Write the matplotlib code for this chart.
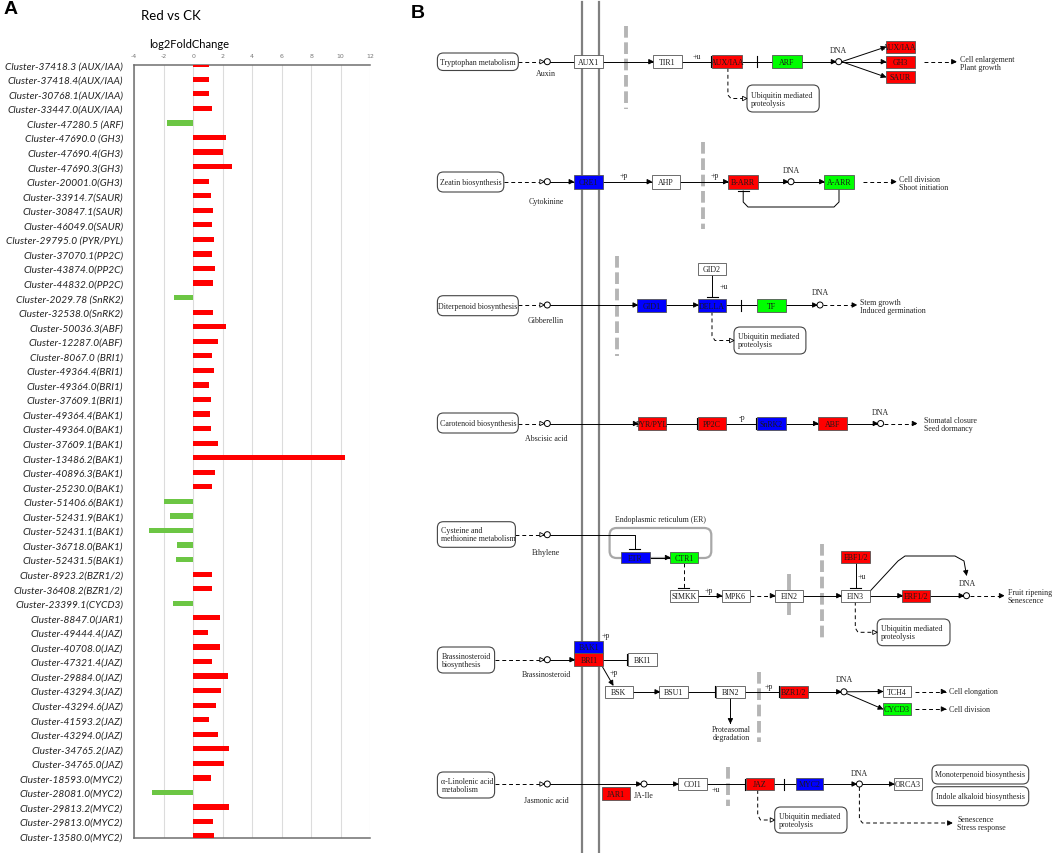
import numpy as np
import matplotlib
matplotlib.use('Agg')
import matplotlib.pyplot as plt
from matplotlib.patches import Rectangle, FancyBboxPatch, Circle, Polygon

# ------------------------------------------------------------------------
# Data: panel A (log2FoldChange, Red vs CK)

cluster_labels = [
    'Cluster-37418.3 (AUX/IAA)', 'Cluster-37418.4(AUX/IAA)', 'Cluster-30768.1(AUX/IAA)',
    'Cluster-33447.0(AUX/IAA)', 'Cluster-47280.5 (ARF)', 'Cluster-47690.0 (GH3)',
    'Cluster-47690.4(GH3)', 'Cluster-47690.3(GH3)', 'Cluster-20001.0(GH3)',
    'Cluster-33914.7(SAUR)', 'Cluster-30847.1(SAUR)', 'Cluster-46049.0(SAUR)',
    'Cluster-29795.0 (PYR/PYL)', 'Cluster-37070.1(PP2C)', 'Cluster-43874.0(PP2C)',
    'Cluster-44832.0(PP2C)', 'Cluster-2029.78 (SnRK2)', 'Cluster-32538.0(SnRK2)',
    'Cluster-50036.3(ABF)', 'Cluster-12287.0(ABF)', 'Cluster-8067.0 (BRI1)',
    'Cluster-49364.4(BRI1)', 'Cluster-49364.0(BRI1)', 'Cluster-37609.1(BRI1)',
    'Cluster-49364.4(BAK1)', 'Cluster-49364.0(BAK1)', 'Cluster-37609.1(BAK1)',
    'Cluster-13486.2(BAK1)', 'Cluster-40896.3(BAK1)', 'Cluster-25230.0(BAK1)',
    'Cluster-51406.6(BAK1)', 'Cluster-52431.9(BAK1)', 'Cluster-52431.1(BAK1)',
    'Cluster-36718.0(BAK1)', 'Cluster-52431.5(BAK1)', 'Cluster-8923.2(BZR1/2)',
    'Cluster-36408.2(BZR1/2)', 'Cluster-23399.1(CYCD3)', 'Cluster-8847.0(JAR1)',
    'Cluster-49444.4(JAZ)', 'Cluster-40708.0(JAZ)', 'Cluster-47321.4(JAZ)',
    'Cluster-29884.0(JAZ)', 'Cluster-43294.3(JAZ)', 'Cluster-43294.6(JAZ)',
    'Cluster-41593.2(JAZ)', 'Cluster-43294.0(JAZ)', 'Cluster-34765.2(JAZ)',
    'Cluster-34765.0(JAZ)', 'Cluster-18593.0(MYC2)', 'Cluster-28081.0(MYC2)',
    'Cluster-29813.2(MYC2)', 'Cluster-29813.0(MYC2)', 'Cluster-13580.0(MYC2)',
]

log2fc = [
    1.09, 1.05, 1.05, 1.27, -1.75, 2.25, 2.0, 2.6, 1.05,
    1.23, 1.34, 1.27, 1.39, 1.27, 1.5, 1.34, -1.32, 1.34,
    2.2, 1.7, 1.27, 1.43, 1.05, 1.23, 1.11, 1.23, 1.66,
    10.3, 1.5, 1.27, -1.98, -1.57, -2.98, -1.09, -1.2, 1.25,
    1.3, -1.36, 1.82, 1.02, 1.82, 1.3, 2.36, 1.86, 1.55,
    1.07, 1.66, 2.4, 2.09, 1.23, -2.8, 2.45, 1.34, 1.43,
]

x_ticks = [-4, -2, 0, 2, 4, 6, 8, 10, 12]

# ------------------------------------------------------------------------
# Data: panel B (KEGG plant hormone signal transduction)

node_label = {
    'AUX1': 'AUX1', 'TIR1': 'TIR1', 'AUXIAA': 'AUX/IAA', 'ARF': 'ARF',
    'AUXIAA2': 'AUX/IAA', 'GH3': 'GH3', 'SAUR': 'SAUR',
    'CRE1': 'CRE1', 'AHP': 'AHP', 'BARR': 'B-ARR', 'AARR': 'A-ARR',
    'GID2': 'GID2', 'GID1': 'GID1', 'DELLA': 'DELLA', 'TF': 'TF',
    'PYR': 'PYR/PYL', 'PP2C': 'PP2C', 'SNRK2': 'SnRK2', 'ABF': 'ABF',
    'ETR': 'ETR', 'CTR1': 'CTR1', 'SIMKK': 'SIMKK', 'MPK6': 'MPK6',
    'EIN2': 'EIN2', 'EIN3': 'EIN3', 'EBF': 'EBF1/2', 'ERF': 'ERF1/2',
    'BAK1': 'BAK1', 'BRI1': 'BRI1', 'BKI1': 'BKI1', 'BSK': 'BSK',
    'BSU1': 'BSU1', 'BIN2': 'BIN2', 'BZR': 'BZR1/2', 'TCH4': 'TCH4',
    'CYCD3': 'CYCD3', 'JAR1': 'JAR1', 'COI1': 'COI1', 'JAZ': 'JAZ',
    'MYC2': 'MYC2', 'ORCA3': 'ORCA3',
}

up_nodes = ['AUXIAA', 'AUXIAA2', 'GH3', 'SAUR', 'BARR', 'PYR', 'PP2C', 'ABF',
            'EBF', 'ERF', 'BRI1', 'BZR', 'JAR1', 'JAZ']
down_nodes = ['ARF', 'AARR', 'TF', 'CTR1', 'CYCD3']
mixed_nodes = ['CRE1', 'GID1', 'DELLA', 'SNRK2', 'ETR', 'BAK1', 'MYC2']

# layout of panel B in figure pixels: x0, x1, y0, y1
node_box = {
    'AUX1': (574.3, 603.4, 56, 69), 'TIR1': (653.2, 682.2, 56, 69),
    'AUXIAA': (712.1, 742.4, 56, 69), 'ARF': (772.3, 801.7, 56, 69),
    'AUXIAA2': (885.6, 914.6, 42, 54), 'GH3': (885.6, 914.6, 57, 68.5),
    'SAUR': (885.6, 914.6, 72, 84),
    'CRE1': (573.5, 603, 176, 190), 'AHP': (651.5, 680, 176, 190),
    'BARR': (727.9, 757.7, 176, 190), 'AARR': (824, 853.6, 176, 190),
    'GID2': (698, 726.2, 264, 276), 'GID1': (637.4, 665.6, 300, 312.7),
    'DELLA': (698, 726.2, 300, 312.7), 'TF': (756.9, 786, 300, 312.7),
    'PYR': (637.8, 666.4, 418, 431), 'PP2C': (697.6, 725.8, 418, 431),
    'SNRK2': (756.9, 786, 418, 431), 'ABF': (817.9, 846.5, 418, 431),
    'ETR': (620.8, 649.8, 552.7, 564.3), 'CTR1': (669.8, 698, 552.7, 564.3),
    'SIMKK': (669.8, 698, 590.7, 602.7), 'MPK6': (721.6, 749.8, 590.7, 602.7),
    'EIN2': (774.7, 803.4, 590.7, 602.7), 'EIN3': (841.1, 870.2, 590.7, 602.7),
    'EBF': (841.1, 870.2, 551.7, 564.3), 'ERF': (902.2, 930.4, 590.7, 602.7),
    'BAK1': (574.3, 603.4, 642, 654), 'BRI1': (574.3, 603.4, 654, 666.7),
    'BKI1': (628.3, 656.5, 654, 667), 'BSK': (604.6, 633.2, 686.7, 699),
    'BSU1': (659.4, 687.6, 686.7, 699), 'BIN2': (716.2, 744.5, 686.7, 699),
    'BZR': (779.7, 808, 686.7, 699), 'TCH4': (882.6, 911.3, 686.7, 698.3),
    'CYCD3': (882.6, 911.3, 704, 716), 'JAR1': (602, 630.3, 788, 800.7),
    'COI1': (678, 707, 779, 791), 'JAZ': (745.7, 773.5, 779, 791),
    'MYC2': (795.5, 823.3, 779, 791), 'ORCA3': (893.9, 922, 779, 791),
}

map_boxes = [
    ('Tryptophan metabolism', 437.4, 518.3, 54, 71.5, 'center'),
    ('Zeatin biosynthesis', 437.4, 503.8, 173, 193, 'center'),
    ('Diterpenoid biosynthesis', 437.4, 518.3, 296.7, 316.7, 'center'),
    ('Carotenoid biosynthesis', 437.4, 518.3, 414, 434, 'center'),
    ('Cysteine and\nmethionine metabolism', 437.4, 515.4, 522.7, 548.3, 'left'),
    ('Brassinosteroid\nbiosynthesis', 437.4, 494.6, 648, 674, 'left'),
    ('\u03b1-Linolenic acid\nmetabolism', 437.4, 494.6, 773, 799, 'left'),
    ('Ubiquitin mediated\nproteolysis', 747, 819.2, 86, 113, 'left'),
    ('Ubiquitin mediated\nproteolysis', 734, 805.9, 328, 355, 'left'),
    ('Ubiquitin mediated\nproteolysis', 877.2, 950, 620, 646.7, 'left'),
    ('Ubiquitin mediated\nproteolysis', 774.7, 847, 808, 834, 'left'),
    ('Monoterpenoid biosynthesis', 932, 1028.7, 766, 785, 'center'),
    ('Indole alkaloid biosynthesis', 932, 1028.7, 787.7, 806.7, 'center'),
]

RED, GREEN, BLUE = '#ff0000', '#00ff00', '#0000ff'
BAR_RED, BAR_GREEN = '#ff0000', '#6cc644'
SERIF = 'Liberation Serif'
FS = 5.7

# ------------------------------------------------------------------------
# Helpers for panel B


def head(ax, p0, p1, kind, size=4.5):
    dx, dy = p1[0] - p0[0], p1[1] - p0[1]
    L = np.hypot(dx, dy)
    ux, uy = dx / L, dy / L
    px, py = -uy, ux
    x1, y1 = p1
    if kind in ('tri', 'open'):
        w = size * 0.5
        pts = [(x1, y1),
               (x1 - ux * size + px * w, y1 - uy * size + py * w),
               (x1 - ux * size - px * w, y1 - uy * size - py * w)]
        ax.add_patch(Polygon(pts, closed=True, fc='k' if kind == 'tri' else 'white',
                             ec='k', lw=0.6, zorder=6))
    elif kind == 'bar':
        w = 5.5
        ax.plot([x1 + px * w, x1 - px * w], [y1 + py * w, y1 - py * w],
                color='k', lw=0.8, zorder=6)


def link(ax, pts, kind='tri', dashed=False):
    xs, ys = zip(*pts)
    ax.plot(xs, ys, color='k', lw=0.7, ls=(0, (4, 3)) if dashed else '-', zorder=2)
    if kind:
        head(ax, pts[-2], pts[-1], kind)


def vbar(ax, x, y):
    # inhibition bar drawn in the middle of a horizontal line
    ax.plot([x, x], [y - 5.5, y + 5.5], color='k', lw=0.8, zorder=6)


def cpd(ax, x, y):
    ax.add_patch(Circle((x, y), 3, fc='white', ec='k', lw=0.7, zorder=5))


def note(ax, x, y, s, ha='center', fs=FS):
    ax.text(x, y, s, ha=ha, va='center', fontsize=fs, family=SERIF,
            color='#222222', zorder=7, linespacing=1.0)


def gray_dash(ax, x, y0, y1, solid=False):
    ax.plot([x, x], [y0, y1], color='#b5b5b5', lw=2.8,
            ls='-' if solid else (0, (3, 1.2)), zorder=1, solid_capstyle='butt')


def gene_color(key):
    if key in up_nodes:
        return RED
    if key in down_nodes:
        return GREEN
    if key in mixed_nodes:
        return BLUE
    return 'white'


# ------------------------------------------------------------------------
# Figure

fig = plt.figure(figsize=(10.52, 8.54), dpi=100)
W, H = 1052.0, 854.0

# ---------------- Panel A
axA = fig.add_axes([134.3 / W, 1 - 839.3 / H, (370 - 134.3) / W, (839.3 - 65.7) / H])
yy = np.arange(len(cluster_labels))
bar_colors = [BAR_RED if v > 0 else BAR_GREEN for v in log2fc]
axA.barh(yy, log2fc, height=0.36, color=bar_colors, zorder=3)
axA.set_xlim(-4, 12)
axA.set_ylim(len(cluster_labels) - 1 + 0.15, 0)
axA.set_axisbelow(True)
axA.grid(axis='x', color='#dcdcdc', lw=0.8)
axA.xaxis.tick_top()
axA.set_xticks(x_ticks)
axA.set_xticklabels([str(t) for t in x_ticks], fontsize=4.5, color='#777777')
axA.tick_params(axis='x', length=0, pad=5)
axA.set_yticks(yy)
axA.set_yticklabels(cluster_labels, fontsize=7.3, family='Lato', style='italic', color='#222222')
axA.tick_params(axis='y', length=0, pad=8)
for side in ('left', 'top', 'bottom'):
    axA.spines[side].set_color('#6f6f6f')
    axA.spines[side].set_linewidth(1.1)
axA.spines['right'].set_visible(False)

fig.text(171 / W, 1 - 16 / H, 'Red vs CK', ha='center', va='center', fontsize=9.5, family='Lato')
fig.text(189.5 / W, 1 - 45 / H, 'log2FoldChange', ha='center', va='center', fontsize=8, family='Lato')
fig.text(11 / W, 1 - 10 / H, 'A', ha='center', va='center', fontsize=14, weight='bold', family='Liberation Sans')
fig.text(418 / W, 1 - 13 / H, 'B', ha='center', va='center', fontsize=14, weight='bold', family='Liberation Sans')

# ---------------- Panel B
axB = fig.add_axes([400 / W, 0, 652 / W, 1])
axB.set_xlim(400, 1052)
axB.set_ylim(854, 0)
axB.axis('off')

# membrane
for mx in (581.7, 598.5):
    axB.plot([mx, mx], [3, 854], color='#808080', lw=1.6, zorder=1)

# gene boxes
for key, (x0, x1, y0, y1) in node_box.items():
    axB.add_patch(Rectangle((x0, y0), x1 - x0, y1 - y0, fc=gene_color(key),
                            ec='#555555', lw=0.6, zorder=4))
    axB.text((x0 + x1) / 2, (y0 + y1) / 2 + 0.3, node_label[key], ha='center', va='center',
             fontsize=FS, family=SERIF, color='#1a1a1a', zorder=7)

# pathway map boxes
for text, x0, x1, y0, y1, align in map_boxes:
    axB.add_patch(FancyBboxPatch((x0, y0), x1 - x0, y1 - y0,
                                 boxstyle='round,pad=0,rounding_size=6',
                                 fc='white', ec='#444444', lw=0.8, zorder=4))
    if align == 'left':
        note(axB, x0 + 4, (y0 + y1) / 2, text, ha='left')
    else:
        note(axB, (x0 + x1) / 2, (y0 + y1) / 2, text)

# ER compartment
axB.add_patch(FancyBboxPatch((609.6, 529), 101.7, 30, boxstyle='round,pad=0,rounding_size=7',
                             fc='none', ec='#a8a8a8', lw=1.6, zorder=2))
note(axB, 660, 520, 'Endoplasmic reticulum (ER)')

# gray dashed separators
gray_dash(axB, 626.2, 27, 110)
gray_dash(axB, 703, 143, 230)
gray_dash(axB, 616.6, 257, 357)
gray_dash(axB, 822, 545, 642)
gray_dash(axB, 759, 673, 743)
gray_dash(axB, 727.9, 768, 807)
gray_dash(axB, 788.9, 575, 616, solid=True)

# hormone inputs: map box -> compound
inputs = [(518.3, 62.7, 'Auxin', 74), (503.8, 182.7, 'Cytokinine', 201.7),
          (518.3, 306, 'Gibberellin', 320.7), (518.3, 424.5, 'Abscisic acid', 439),
          (515.4, 535.7, 'Ethylene', 553), (494.6, 660.7, 'Brassinosteroid', 675),
          (494.6, 785, 'Jasmonic acid', 801)]
for x0, yc, name, ly in inputs:
    link(axB, [(x0, yc), (544.3, yc)], 'open', dashed=True)
    cpd(axB, 547.3, yc)
    note(axB, 546, ly, name)

# Row 1: auxin
Y = 62.7
link(axB, [(550.3, Y), (653.2, Y)])
link(axB, [(682.2, Y), (711.3, Y)], 'bar')
note(axB, 697, 57, '+u')
link(axB, [(742.4, Y), (772.3, Y)], None)
vbar(axB, 756.9, Y)
link(axB, [(801.7, Y), (835.7, Y)])
cpd(axB, 838.7, Y)
note(axB, 838.7, 50.7, 'DNA')
for ty in (48, 62.7, 78):
    link(axB, [(841.7, Y), (885.6, ty)])
link(axB, [(923.7, Y), (956.1, Y)], dashed=True)
note(axB, 960.3, 64, 'Cell enlargement\nPlant growth', ha='left')
link(axB, [(727.9, 69), (727.9, 96), (731, 99.5), (747, 99.5)], 'open', dashed=True)

# Row 2: cytokinin
Y = 182.7
link(axB, [(550.3, Y), (573.5, Y)])
link(axB, [(603, Y), (651.5, Y)])
note(axB, 624, 176, '+p')
link(axB, [(680, Y), (727.9, Y)])
note(axB, 715, 176, '+p')
link(axB, [(757.7, Y), (788, Y)])
cpd(axB, 791, Y)
note(axB, 791, 170.7, 'DNA')
link(axB, [(794, Y), (824, Y)])
link(axB, [(862.7, Y), (896, Y)], dashed=True)
note(axB, 899.2, 184.5, 'Cell division\nShoot initiation', ha='left')
link(axB, [(839, 190), (839, 203), (834, 208), (748, 208), (743.2, 203), (743.2, 192)], 'bar')

# Row 3: gibberellin
Y = 306
link(axB, [(550.3, Y), (637.4, Y)])
link(axB, [(665.6, Y), (698, Y)])
link(axB, [(712.1, 276), (712.1, 298)], 'bar')
note(axB, 724, 287, '+u')
link(axB, [(726.2, Y), (756.9, Y)], None)
vbar(axB, 741.1, Y)
link(axB, [(786, Y), (817, Y)])
cpd(axB, 820, Y)
note(axB, 820, 293, 'DNA')
link(axB, [(823, Y), (856.5, Y)], dashed=True)
note(axB, 859.8, 307.5, 'Stem growth\nInduced germination', ha='left')
link(axB, [(712, 312.7), (712, 337), (715, 341.5), (734, 341.5)], 'open', dashed=True)

# Row 4: abscisic acid
Y = 424.5
link(axB, [(550.3, Y), (637.8, Y)])
link(axB, [(666.4, Y), (696.5, Y)], 'bar')
link(axB, [(725.8, Y), (755.8, Y)], 'bar')
note(axB, 742.4, 418, '-p')
link(axB, [(786, Y), (817.9, Y)])
link(axB, [(846.5, Y), (877.6, Y)])
cpd(axB, 880.6, Y)
note(axB, 880.6, 412.7, 'DNA')
link(axB, [(883.6, Y), (916.7, Y)], dashed=True)
note(axB, 923.7, 425.5, 'Stomatal closure\nSeed dormancy', ha='left')

# Row 5: ethylene
link(axB, [(550.3, 535.7), (634.5, 535.7), (634.5, 550)], 'bar')
link(axB, [(649.8, 558.5), (669.8, 558.5)])
link(axB, [(683.9, 564.3), (683.9, 588.5)], 'bar', dashed=True)
Y = 596.7
link(axB, [(698, Y), (721.6, Y)])
note(axB, 709, 591, '+p')
link(axB, [(749.8, Y), (774.7, Y)], dashed=True)
link(axB, [(803.4, Y), (841.1, Y)])
link(axB, [(855.6, 564.3), (855.6, 589)], 'bar')
note(axB, 862, 576.7, '+u')
link(axB, [(870.2, Y), (902.2, Y)])
link(axB, [(930.4, Y), (963.5, Y)])
cpd(axB, 966.5, Y)
note(axB, 967, 584, 'DNA')
link(axB, [(969.5, Y), (1003.8, Y)], dashed=True)
note(axB, 1008, 597.5, 'Fruit ripening\nSenescence', ha='left')
link(axB, [(870.2, 592), (898, 562), (905, 557), (955, 557), (964, 562), (966.5, 576)])
link(axB, [(855.3, 602.7), (855.3, 629), (858, 633.3), (877.2, 633.3)], 'open', dashed=True)

# Row 6: brassinosteroid
Y = 660.7
link(axB, [(550.3, Y), (574.3, Y)])
note(axB, 606, 636, '+p')
link(axB, [(603.4, Y), (627.3, Y)], 'bar')
link(axB, [(602, 667), (613, 686)])
note(axB, 614, 673, '+p')
Y = 692.8
link(axB, [(633.2, Y), (659.4, Y)])
link(axB, [(687.6, Y), (715.2, Y)], 'bar')
link(axB, [(730.4, 699), (730.4, 724)])
note(axB, 731, 734, 'Proteasomal\ndegradation')
link(axB, [(744.5, Y), (778.7, Y)], 'bar')
note(axB, 769, 687, '+p')
link(axB, [(808, Y), (841, Y)])
cpd(axB, 844, Y)
note(axB, 844, 680, 'DNA')
link(axB, [(847, Y), (882.6, 692.5)])
link(axB, [(846.5, 694.5), (882.6, 710)])
link(axB, [(914.6, 692.5), (945.7, 692.5)], dashed=True)
link(axB, [(914.6, 710), (945.7, 710)], dashed=True)
note(axB, 948.6, 692.5, 'Cell elongation', ha='left')
note(axB, 948.6, 710, 'Cell division', ha='left')

# Row 7: jasmonic acid
Y = 785
link(axB, [(550.3, Y), (641, Y)])
cpd(axB, 644, Y)
note(axB, 644, 796, 'JA-Ile')
link(axB, [(647, Y), (678, Y)])
note(axB, 716, 790, '+u')
link(axB, [(707, Y), (744.7, Y)], 'bar')
link(axB, [(773.5, Y), (795.5, Y)], None)
vbar(axB, 783.9, Y)
link(axB, [(823.3, Y), (856.4, Y)])
cpd(axB, 859.4, Y)
note(axB, 859.4, 774, 'DNA')
link(axB, [(862.4, Y), (893.9, Y)])
link(axB, [(859.4, 788), (859.4, 820), (862.5, 824), (952, 824)], dashed=True)
note(axB, 957, 824.5, 'Senescence\nStress response', ha='left')
link(axB, [(757.7, 791), (757.7, 816), (760.5, 821), (774.7, 821)], 'open', dashed=True)

fig.savefig('out.png', dpi=100)
